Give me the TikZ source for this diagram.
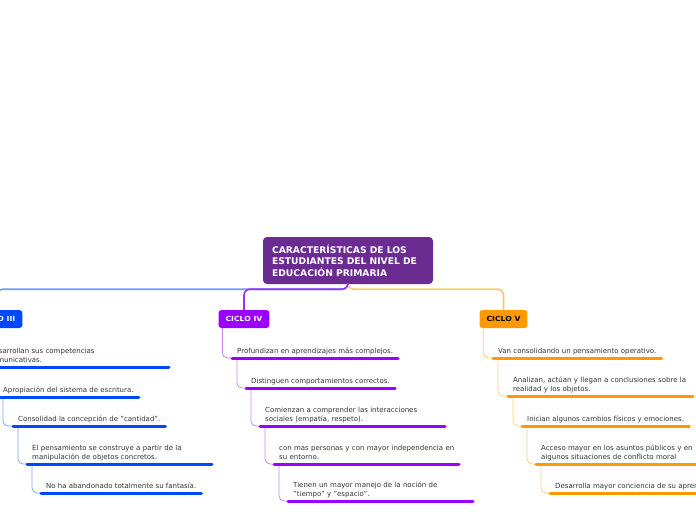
\documentclass[tikz,border=0pt]{standalone}
\usepackage{fontspec}
\setmainfont{DejaVu Sans}
\newfontfamily\boxbold{DejaVu Sans}[FakeStretch=1.1]
\usetikzlibrary{calc}
\definecolor{rootc}{HTML}{6A2C91}
\definecolor{blueD}{HTML}{0047FF}
\definecolor{blueL}{HTML}{7EA7FF}
\definecolor{blueM}{HTML}{6D9BFF}
\definecolor{purpD}{HTML}{9900FF}
\definecolor{purpL}{HTML}{CC88FF}
\definecolor{purpM}{HTML}{9B30FF}
\definecolor{orD}{HTML}{FF9900}
\definecolor{orL}{HTML}{FFCC80}
\definecolor{orM}{HTML}{FFC870}
\definecolor{txt}{HTML}{333333}
\begin{document}
\begin{tikzpicture}[x=1pt,y=-1pt,
  central/.style={fill=rootc, rounded corners=4pt, text=white, font=\fontsize{9.2}{11.5}\selectfont\bfseries,
    text width=152pt, align=left, inner xsep=9pt, inner ysep=0pt, minimum height=47pt},
  cbox/.style={rounded corners=3pt, text=white, font=\fontsize{7}{8}\selectfont\boxbold\bfseries,
    inner xsep=7pt, inner ysep=0pt, minimum height=18pt},
  item/.style={anchor=south west, inner xsep=5pt, inner ysep=3.3pt, text=txt,
    font=\fontsize{7}{8.8}\selectfont, execute at end node={\vphantom{p}}},
  multi/.style={item, text width=185pt, align=left},
  ul/.style={line width=3pt, line cap=round},
  conn/.style={line width=0.8pt, rounded corners=5pt},
  mainline/.style={line width=1.6pt, rounded corners=6pt}]
\useasboundingbox (0,0) rectangle (696,520);
\clip (0,0) rectangle (696,520);
\fill[white] (0,0) rectangle (696,520);

% root
\node[central] (root) at (348,260.5) {CARACTERÍSTICAS DE LOS\\ESTUDIANTES DEL NIVEL DE\\EDUCACIÓN PRIMARIA};

% cycle boxes
\node[cbox, fill=blueD] (c3) at (-3,319) {CICLO III};
\node[cbox, fill=purpD] (c4) at (244,319) {CICLO IV};
\node[cbox, fill=orD, text=black] (c5) at (503.5,319) {CICLO V};

% main connectors
\draw[mainline, blueM] (root.south) -- ++(0,5) -| (c3.north);
\draw[mainline, orM] (root.south) -- ++(0,5) -| (c5.north);
\draw[mainline, purpM] (root.south) -- ++(0,5) -| (c4.north);

% CICLO III items
\node[multi] (a1) at (-16,367) {Desarrollan sus competencias\\comunicativas.};
\node[item] (a2) at (-2,397) {Apropiación del sistema de escritura.};
\node[item] (a3) at (13,426) {Consolidad la concepción de "cantidad".};
\node[multi] (a4) at (27,464) {El pensamiento se construye a partir de la\\manipulación de objetos concretos.};
\node[item] (a5) at (41,493) {No ha abandonado totalmente su fantasía.};

% CICLO IV items
\node[item] (b1) at (232,358) {Profundizan en aprendizajes más complejos.};
\node[item] (b2) at (246,388) {Distinguen comportamientos correctos.};
\node[multi] (b3) at (260,426) {Comienzan a comprender las interacciones\\sociales (empatía, respeto).};
\node[multi] (b4) at (274,464) {con mas personas y con mayor independencia en\\su entorno.};
\node[multi] (b5) at (288,501) {Tienen un mayor manejo de la noción de\\"tiempo" y "espacio".};

% CICLO V items
\node[item] (v1) at (493,358) {Van consolidando un pensamiento operativo.};
\node[multi] (v2) at (508,396) {Analizan, actúan y llegan a conclusiones sobre la\\realidad y los objetos.};
\node[item] (v3) at (522,426) {Inician algunos cambios físicos y emociones.};
\node[multi] (v4) at (536,464) {Acceso mayor en los asuntos públicos y en\\algunos situaciones de conflicto moral};
\node[item] (v5) at (550,493) {Desarrolla mayor conciencia de su aprendizaje.};

% connectors CICLO III
\draw[conn, blueL] ($(c3.south west)+(4,0)$) |- (a1.south west);
\draw[conn, blueL] ($(a1.south west)+(5,0)$) |- (a2.south west);
\draw[conn, blueL] ($(a2.south west)+(5,0)$) |- (a3.south west);
\draw[conn, blueL] ($(a3.south west)+(5,0)$) |- (a4.south west);
\draw[conn, blueL] ($(a4.south west)+(5,0)$) |- (a5.south west);
% connectors CICLO IV
\draw[conn, purpL] ($(c4.south west)+(4,0)$) |- (b1.south west);
\draw[conn, purpL] ($(b1.south west)+(5,0)$) |- (b2.south west);
\draw[conn, purpL] ($(b2.south west)+(5,0)$) |- (b3.south west);
\draw[conn, purpL] ($(b3.south west)+(5,0)$) |- (b4.south west);
\draw[conn, purpL] ($(b4.south west)+(5,0)$) |- (b5.south west);
% connectors CICLO V
\draw[conn, orL] ($(c5.south west)+(4,0)$) |- (v1.south west);
\draw[conn, orL] ($(v1.south west)+(5,0)$) |- (v2.south west);
\draw[conn, orL] ($(v2.south west)+(5,0)$) |- (v3.south west);
\draw[conn, orL] ($(v3.south west)+(5,0)$) |- (v4.south west);
\draw[conn, orL] ($(v4.south west)+(5,0)$) |- (v5.south west);

% underlines
\foreach \n in {a2,a3,a5} \draw[ul, blueD] (\n.south west) -- (\n.south east);
\foreach \n in {a1,a4} \draw[ul, blueD] (\n.south west) -- ++(185,0);
\foreach \n in {b1,b2} \draw[ul, purpD] (\n.south west) -- (\n.south east);
\foreach \n in {b3,b4,b5} \draw[ul, purpD] (\n.south west) -- ++(185,0);
\foreach \n in {v1,v3,v5} \draw[ul, orD] (\n.south west) -- (\n.south east);
\foreach \n in {v2,v4} \draw[ul, orD] (\n.south west) -- ++(185,0);
\end{tikzpicture}
\end{document}
